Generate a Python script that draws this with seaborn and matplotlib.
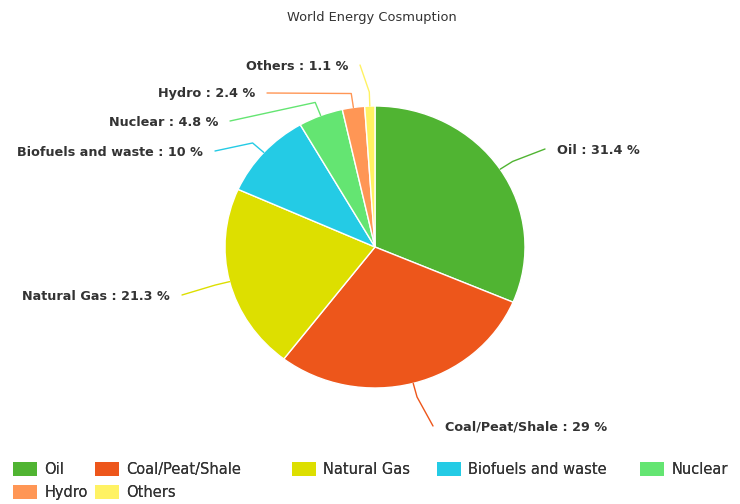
import matplotlib
matplotlib.use("Agg")
import matplotlib.pyplot as plt
from matplotlib.patches import Patch
import numpy as np
import seaborn as sns

# Share of world energy consumption by source (%)
sources = ["Oil", "Coal/Peat/Shale", "Natural Gas", "Biofuels and waste",
           "Nuclear", "Hydro", "Others"]
shares = [31.4, 29, 21.3, 10, 4.8, 2.4, 1.1]
palette = ["#50B432", "#ED561B", "#DDDF00", "#24CBE5",
           "#64E572", "#FF9655", "#FFF263"]
title = "World Energy Cosmuption"

# Label placement (pixel positions, top-left origin): text anchor x, y, alignment
label_layout = {
    "Oil":                (557, 150, "left"),
    "Coal/Peat/Shale":    (445, 427, "left"),
    "Natural Gas":        (170, 296, "right"),
    "Biofuels and waste": (203, 152, "right"),
    "Nuclear":            (218, 122, "right"),
    "Hydro":              (255, 94, "right"),
    "Others":             (348, 66, "right"),
}
# Legend item slots (pixel x of the swatch, pixel y of the row top)
legend_slots = [(13, 462), (95, 462), (292, 462), (437, 462), (640, 462),
                (13, 485), (95, 485)]

sns.set_theme(style="white")
plt.rcParams["font.family"] = ["DejaVu Sans"]

W, H = 740, 504
fig = plt.figure(figsize=(W / 100, H / 100), dpi=100)
fig.patch.set_facecolor("white")

cx, cy, rx, ry = 375, 247, 150, 141
ax = fig.add_axes([(cx - rx) / W, (H - cy - ry) / H, 2 * rx / W, 2 * ry / H])

wedges, _ = ax.pie(shares, colors=sns.color_palette(palette), startangle=90,
                   counterclock=False, radius=1,
                   wedgeprops=dict(edgecolor="white", linewidth=1))
ax.set_aspect("auto")
ax.set_xlim(-1, 1)
ax.set_ylim(-1, 1)
ax.axis("off")

fig.canvas.draw()
inv = ax.transData.inverted()


def px_to_data(px, py):
    return inv.transform((px, H - py))


for w, name, val, col in zip(wedges, sources, shares, palette):
    mid = np.deg2rad((w.theta1 + w.theta2) / 2)
    edge = np.array([np.cos(mid), np.sin(mid)])
    elbow = edge * 1.1
    tx, ty, ha = label_layout[name]
    gap = 12 if ha == "left" else -12
    end = px_to_data(tx - gap, ty - 1)
    ax.plot([edge[0], elbow[0], end[0]], [edge[1], elbow[1], end[1]],
            color=col, lw=1, solid_capstyle="round", clip_on=False)
    fig.text(tx / W, 1 - ty / H, f"{name} : {val:g} %", ha=ha, va="center",
             fontsize=9.2, fontweight="bold", color="#333333")

fig.text(372 / W, 1 - 18 / H, title, ha="center", va="center",
         fontsize=9.4, color="#333333")

leg_kw = dict(frameon=False, fontsize=10.5, handlelength=1.65, handleheight=1.05,
              handletextpad=0.5, borderpad=0, borderaxespad=0,
              labelcolor="#333333", loc="upper left")
for name, col, (lx, ly) in zip(sources, palette, legend_slots):
    leg = fig.legend([Patch(facecolor=col, edgecolor="none")], [name],
                     bbox_to_anchor=(lx / W, 1 - ly / H), **leg_kw)
    fig.add_artist(leg)

fig.savefig("out.png", dpi=100, facecolor="white")
